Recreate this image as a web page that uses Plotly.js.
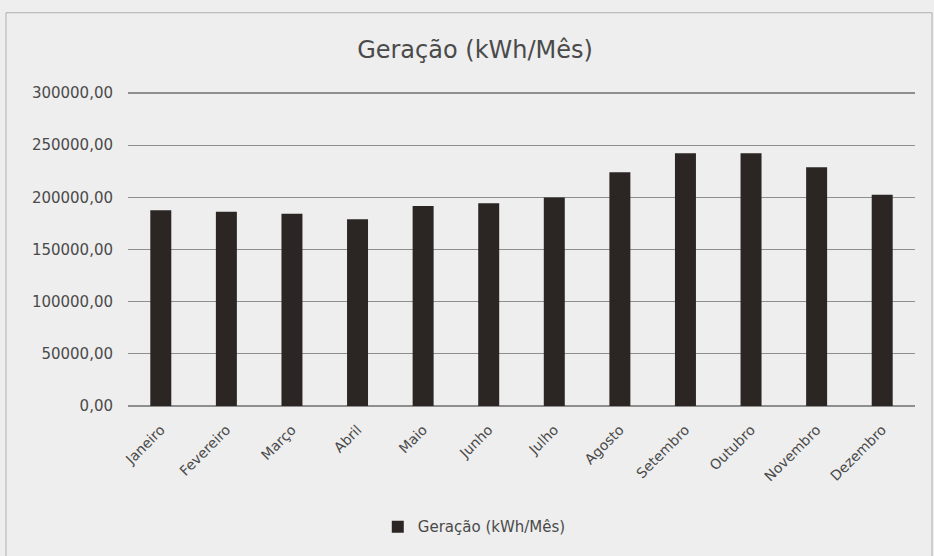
<!DOCTYPE html>
<html>
<head>
<meta charset="utf-8">
<script src="https://cdn.plot.ly/plotly-3.0.1.min.js"></script>
<style>html,body{margin:0;padding:0;background:#eeeeee;}#chart{width:934px;height:556px;}</style>
</head>
<body>
<div id="chart"></div>
<script>
const months = ["Janeiro","Fevereiro","Março","Abril","Maio","Junho","Julho","Agosto","Setembro","Outubro","Novembro","Dezembro"];
const geracao = [187600, 186300, 184400, 178900, 191800, 194400, 199800, 224000, 242400, 242200, 228900, 202400];
const seriesName = "Geração (kWh/Mês)";
const yTicks = [0, 50000, 100000, 150000, 200000, 250000, 300000];

const font = "DejaVu Sans, sans-serif";
const textColor = "#4a4a4a";
Plotly.newPlot("chart", [{
  type: "bar",
  x: months,
  y: geracao,
  name: seriesName,
  marker: {color: "#2b2624"},
  showlegend: true
}], {
  width: 934, height: 556,
  paper_bgcolor: "#eeeeee",
  plot_bgcolor: "#eeeeee",
  margin: {l: 128, r: 19, t: 92, b: 150},
  bargap: 0.68,
  title: {text: "Geração (kWh/Mês)", x: 0.5086, xref: "container", xanchor: "center",
          y: 0.91, yref: "container", yanchor: "middle",
          font: {family: font, size: 24, color: textColor}},
  xaxis: {tickangle: -45, tickfont: {family: font, size: 14, color: textColor}, showline: false, ticks: "",
          ticklabelstandoff: 12},
  yaxis: {range: [0, 301000], tickvals: yTicks, tickformat: ".2f", showgrid: true, gridcolor: "#8e8e8e", gridwidth: 1.3,
          zeroline: true, zerolinecolor: "#8e8e8e", zerolinewidth: 1.3,
          tickfont: {family: font, size: 15, color: textColor}, ticklabelstandoff: 14},
  separators: ",.",
  legend: {orientation: "h", x: 0.44, xanchor: "center", y: -0.385, yanchor: "middle", itemwidth: 30,
           font: {family: font, size: 15, color: textColor}, bgcolor: "rgba(0,0,0,0)"},
  shapes: [{type: "rect", xref: "paper", yref: "paper", x0: -122/787, x1: 804/787, y0: -160/313, y1: 392/313,
            line: {color: "#b0b0b0", width: 1}}]
}, {displayModeBar: false, staticPlot: true});
</script>
</body>
</html>
